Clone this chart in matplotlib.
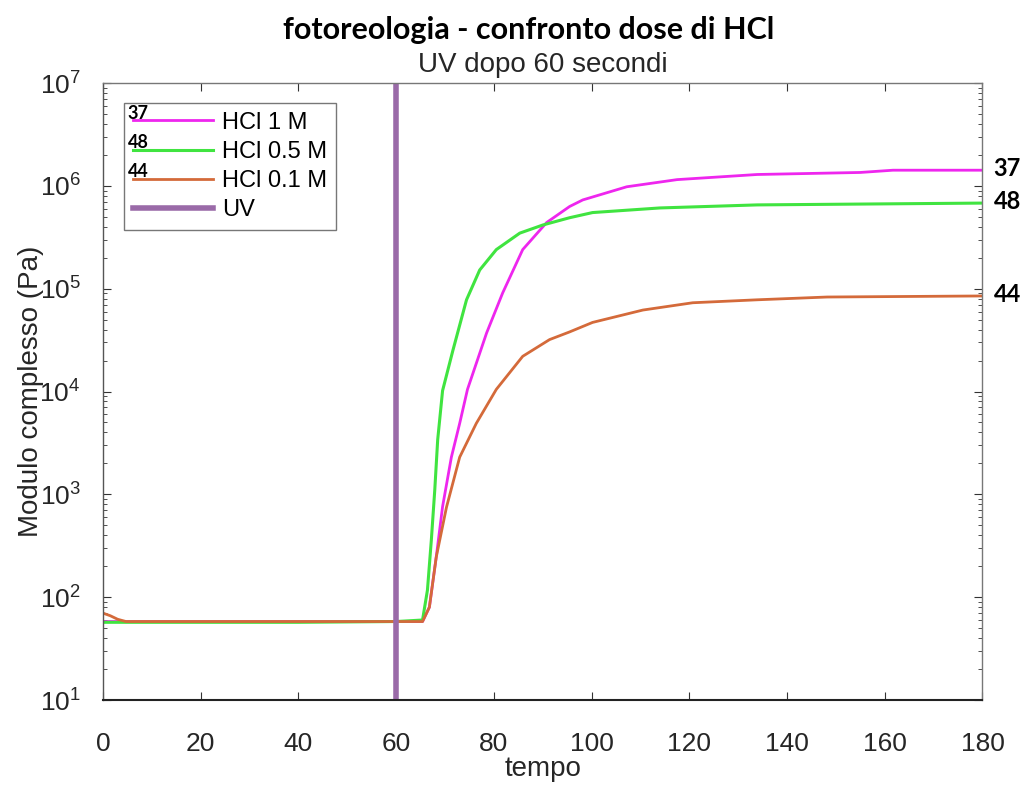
import matplotlib
matplotlib.use("Agg")
import matplotlib.pyplot as plt
from matplotlib.ticker import FixedLocator, NullFormatter, MultipleLocator, LogFormatterMathtext

plt.rcParams['font.family'] = ['Liberation Sans', 'DejaVu Sans']
plt.rcParams['mathtext.fontset'] = 'custom'
plt.rcParams['mathtext.rm'] = 'Liberation Sans'
plt.rcParams['mathtext.it'] = 'Liberation Sans'

# ---- data ----
t_m = [0, 20, 40, 60, 65.4, 66.8, 68.2, 69.5, 71.3, 73.0, 74.6, 78.5, 81.8, 85.9,
       90.8, 95.5, 98.2, 107.2, 117.5, 133.9, 155, 161.7, 180]
g_m = [58, 58, 58, 58, 58, 80, 245, 760, 2300, 4900, 10500, 37000, 91000, 240000,
       440000, 630000, 730000, 980000, 1150000, 1290000, 1350000, 1420000, 1420000]

t_g = [0, 20, 40, 60, 65.4, 66.4, 67.2, 67.9, 68.5, 69.5, 71.6, 74.4, 77.1, 80.5,
       85.3, 90.0, 95.5, 100.2, 114, 133.9, 180]
g_g = [57, 57, 57, 58, 60, 117, 360, 1100, 3400, 10200, 25000, 78000, 152000, 240000,
       347000, 416000, 490000, 550000, 610000, 653000, 680000]

t_o = [0, 1.5, 3, 4.7, 20, 40, 60, 65.4, 66.8, 68.2, 70.3, 73.0, 76.4, 80.5, 85.9,
       91.4, 95.5, 100.2, 110.5, 120.7, 133.9, 148.2, 180]
g_o = [70, 66, 61, 58, 58, 58, 58, 58, 80, 245, 750, 2300, 4900, 10500, 22000,
       32000, 38000, 47000, 62000, 73000, 78000, 83000, 85000]

uv_time = 60
series_labels = ['HCl 1 M', 'HCl 0.5 M', 'HCl 0.1 M', 'UV']
end_tags = ['37', '48', '44']
y_major = [1e1, 1e2, 1e3, 1e4, 1e5, 1e6, 1e7]

# ---- figure ----
fig = plt.figure(figsize=(10.25, 7.87), dpi=100)
ax = fig.add_axes([0.1005, 0.1105, 0.858, 0.784])

c_m = '#ee26ee'
c_g = '#40e440'
c_o = '#d46a3a'
c_uv = '#9a6aa8'

l1, = ax.plot(t_m, g_m, color=c_m, lw=2, label=series_labels[0])
l2, = ax.plot(t_g, g_g, color=c_g, lw=2.2, label=series_labels[1])
l3, = ax.plot(t_o, g_o, color=c_o, lw=2, label=series_labels[2])
l4 = ax.axvline(uv_time, color=c_uv, lw=4, label=series_labels[3])

ax.set_yscale('log')
ax.set_xlim(0, 180)
ax.set_ylim(10, 1e7)
ax.xaxis.set_major_locator(MultipleLocator(20))
ax.yaxis.set_major_locator(FixedLocator(y_major))
ax.yaxis.set_major_formatter(LogFormatterMathtext())
minor = [m * d for d in y_major[:-1] for m in range(2, 10)]
ax.yaxis.set_minor_locator(FixedLocator(minor))
ax.yaxis.set_minor_formatter(NullFormatter())
ax.xaxis.get_offset_text().set_visible(False)
ax.yaxis.get_offset_text().set_visible(False)
ax.tick_params(which='both', direction='in', top=True, right=True, colors='#333333',
               labelcolor='#262626')
ax.tick_params(which='major', length=6)
ax.tick_params(axis='x', which='major', labelsize=19, pad=23)
ax.tick_params(axis='y', which='major', labelsize=19, pad=16)
ax.tick_params(which='minor', length=3)
for s in ax.spines.values():
    s.set_color('#777777')
    s.set_linewidth(1.0)
ax.spines['bottom'].set_color('#222222')
ax.spines['bottom'].set_linewidth(1.5)
ax.spines['left'].set_color('#555555')

ax.set_xlabel('tempo', fontsize=20, color='#262626', labelpad=0)
ax.set_ylabel('Modulo complesso (Pa)', fontsize=20, color='#262626', labelpad=-3)

fig.text(0.516, 0.962, 'fotoreologia - confronto dose di HCl', ha='center', va='center',
         fontsize=22, fontweight='bold', family=['Lato', 'DejaVu Sans'])
ax.set_title('UV dopo 60 secondi', fontsize=20, color='#262626', pad=8)

leg = ax.legend(handles=[l1, l2, l3, l4], loc='upper left', bbox_to_anchor=(0.024, 0.968),
                fontsize=17, frameon=True, fancybox=False, edgecolor='#555555',
                handlelength=3.4, labelspacing=0.3, borderpad=0.38, handletextpad=0.36,
                borderaxespad=0)
leg.get_frame().set_linewidth(1.0)

# end-of-curve tags
for tag, yv in zip(end_tags, [g_m[-1], g_g[-1], g_o[-1]]):
    ax.annotate(tag, xy=(1.0, yv), xycoords=('axes fraction', 'data'),
                xytext=(8, 1), textcoords='offset points', ha='left', va='center',
                fontsize=17, fontweight='bold', family=['Lato', 'DejaVu Sans'],
                annotation_clip=False)

# tags above legend handles
fig.canvas.draw()
for tag, h in zip(end_tags, leg.legend_handles[:3]):
    bb = h.get_window_extent(fig.canvas.get_renderer())
    xd, yd = bb.x0, (bb.y0 + bb.y1) / 2
    fig.text(xd / fig.dpi / fig.get_figwidth() - 0.005,
             yd / fig.dpi / fig.get_figheight() - 0.002,
             tag, ha='left', va='bottom', fontsize=13, fontweight='bold',
             family=['Lato', 'DejaVu Sans'])

fig.savefig('out.png', dpi=100)
